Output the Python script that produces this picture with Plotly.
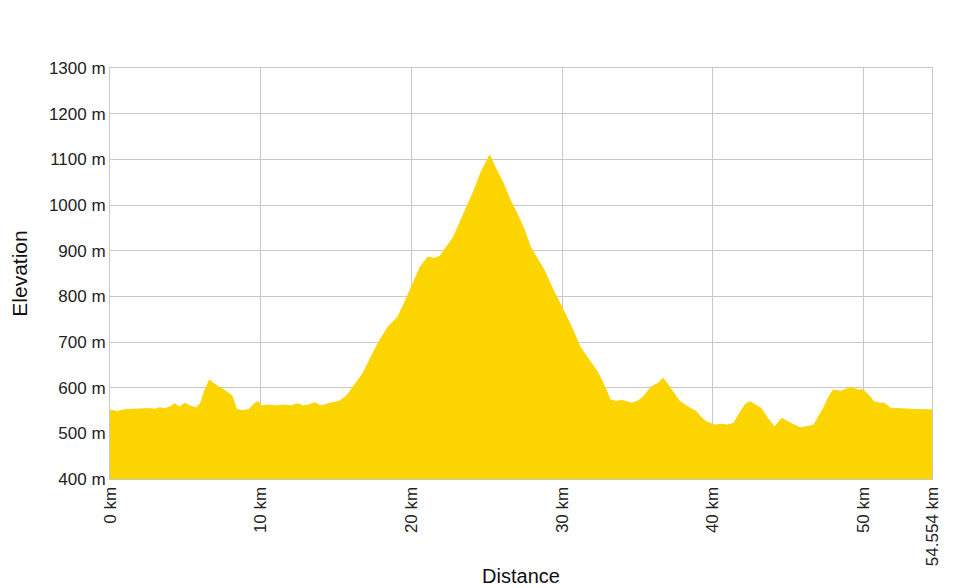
import plotly.graph_objects as go

distance_km = [0.0, 0.5, 1.0, 1.5, 2.0, 2.5, 3.0, 3.3, 3.6, 4.0, 4.3, 4.6, 5.0, 5.3, 5.7, 6.0, 6.3, 6.6, 6.9, 7.3,
               7.7, 8.1, 8.4, 8.8, 9.2, 9.5, 9.8, 10.1, 10.5, 11.0, 11.5, 12.0, 12.5, 12.8, 13.2, 13.6, 14.0, 14.6,
               15.2, 15.7, 16.2, 16.8, 17.4, 17.9, 18.5, 19.1, 19.6, 20.1, 20.6, 21.1, 21.5, 21.9, 22.4, 22.8, 23.2,
               23.7, 24.2, 24.6, 25.0, 25.2, 25.6, 26.1, 26.5, 27.0, 27.5, 27.9, 28.4, 28.8, 29.4, 30.1, 30.6, 31.2,
               31.8, 32.4, 32.8, 33.2, 33.6, 34.0, 34.6, 35.0, 35.4, 35.9, 36.4, 36.7, 37.0, 37.4, 37.8, 38.5, 38.9,
               39.2, 39.6, 40.1, 40.6, 41.0, 41.4, 41.8, 42.2, 42.5, 42.9, 43.2, 43.6, 44.1, 44.4, 44.6, 45.0, 45.2,
               45.8, 46.3, 46.7, 47.0, 47.4, 47.7, 48.0, 48.5, 49.0, 49.2, 49.6, 50.0, 50.4, 50.7, 51.1, 51.4, 51.8,
               52.5, 53.0, 53.7, 54.554]
elevation_m = [551, 548, 552, 553, 553, 554, 553, 556, 554, 558, 565, 558, 566, 560, 556, 565, 595, 617, 608, 600,
               592, 582, 552, 550, 552, 562, 570, 560, 562, 560, 562, 560, 565, 560, 562, 567, 560, 566,
               570, 582, 605, 632, 672, 704, 735, 755, 790, 829, 865, 886, 883, 888, 910, 930, 960,
               996, 1035, 1070, 1095, 1109, 1080, 1048, 1015, 982, 945, 908, 880, 858, 815, 770, 735, 689,
               660, 632, 605, 573, 570, 572, 566, 570, 580, 601, 610, 621, 608, 588, 570, 555, 548,
               536, 525, 518, 520, 518, 522, 545, 565, 569, 562, 555, 535, 514, 526, 533, 525, 522,
               512, 515, 518, 535, 558, 580, 595, 592, 598, 601, 595, 595, 582, 569, 566, 566, 555,
               553, 553, 552, 551]

x_tick_vals = [0, 10, 20, 30, 40, 50, 54.554]
x_tick_text = ["0 km", "10 km", "20 km", "30 km", "40 km", "50 km", "54.554 km"]
y_tick_vals = [400, 500, 600, 700, 800, 900, 1000, 1100, 1200, 1300]
y_tick_text = [f"{v} m" for v in y_tick_vals]

fig = go.Figure()
fig.add_trace(go.Scatter(
    x=distance_km, y=elevation_m, mode="lines", fill="tozeroy",
    line=dict(color="#FCD500", width=1), fillcolor="#FCD500",
    hoverinfo="x+y", showlegend=False,
))

fig.update_layout(
    width=972, height=588,
    margin=dict(l=102, r=48, t=60, b=117),
    paper_bgcolor="white", plot_bgcolor="white",
    font=dict(family="Arial, Liberation Sans, sans-serif", size=17, color="#222"),
    xaxis=dict(
        range=[0, 54.554], tickvals=x_tick_vals, ticktext=x_tick_text, tickangle=-90,
        showgrid=True, gridcolor="#c8c8c8", gridwidth=1, zeroline=False,
        showline=True, linecolor="#c8c8c8", mirror=True, ticks="",
        title=dict(text="Distance", font=dict(size=20, color="#111"), standoff=3),
        tickfont=dict(size=17, color="#222"),
        automargin=False,
    ),
    yaxis=dict(
        range=[400, 1300], tickvals=y_tick_vals, ticktext=y_tick_text,
        showgrid=True, gridcolor="#c8c8c8", gridwidth=1, zeroline=False,
        showline=True, linecolor="#c8c8c8", mirror=True, ticks="",
        title=dict(text="Elevation", font=dict(size=21, color="#111"), standoff=18),
        tickfont=dict(size=17, color="#222"),
        automargin=False,
    ),
)

fig.write_html("out.html")
